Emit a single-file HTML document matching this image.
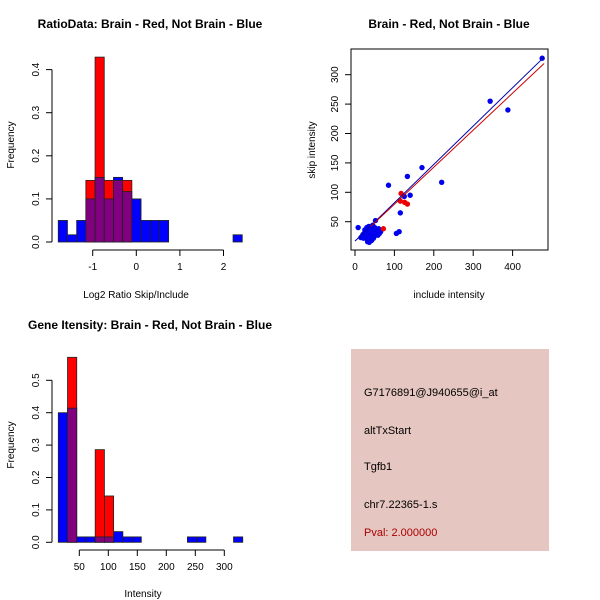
<!DOCTYPE html>
<html><head><meta charset="utf-8"><style>
body{margin:0;background:#fff}
svg{display:block;font-family:"Liberation Sans",sans-serif}
.t{font-weight:bold;font-size:12px}
.l{font-size:10px}
</style></head><body>
<svg id="c" width="600" height="600" xmlns="http://www.w3.org/2000/svg"></svg>
<script>
// ---- data ----
const ratioBreakStart = -1.79, ratioBreakStep = 0.211;
const ratioBlue = [0.05,0.0167,0.05,0.1,0.15,0.1,0.15,0.117,0.1,0.05,0.05,0.05,0,0,0,0,0,0,0,0.0167];
const ratioRed  = [0,0,0,0.143,0.429,0.143,0.143,0.143,0,0,0,0,0,0,0,0,0,0,0,0];
const ratioYTicks = [0,0.1,0.2,0.3,0.4];
const ratioYLabels = ["0.0","0.1","0.2","0.3","0.4"];
const ratioXTicks = [-1,0,1,2];

const intBreakStart = 13.8, intBreakStep = 15.9;
const intBlue = [0.4,0.414,0.0167,0.0167,0.0167,0.0167,0.033,0.0167,0.0167,0,0,0,0,0,0.0167,0.0167,0,0,0,0.0167];
const intRed  = [0,0.571,0,0,0.286,0.143,0,0,0,0,0,0,0,0,0,0,0,0,0,0];
const intYTicks = [0,0.1,0.2,0.3,0.4,0.5];
const intYLabels = ["0.0","0.1","0.2","0.3","0.4","0.5"];
const intXTicks = [50,100,150,200,250,300];

const blueX = [475,343,388,220,170,133,85,125,140,115,105,112,52,8,20,25,30,35,40,45,50,55,60,65,22,28,33,38,43,48,53,58,30,35,40,45,50,25,15,62,36,42,47,32,27];
const blueY = [328,255,240,117,142,127,112,93,95,65,30,33,52,40,28,32,35,30,38,33,36,30,38,33,22,26,20,25,28,24,30,27,40,42,35,44,40,36,23,30,15,18,22,16,30];
const redX = [117,115,133,72,126];
const redY = [98,85,80,38,83];
const fitBlue = [{x:0,y:17},{x:480,y:330}];
const fitRed = [{x:40,y:42},{x:480,y:319}];
const scXTicks = [0,100,200,300,400];
const scYTicks = [50,100,150,200,250,300];

const panelLines = ["G7176891@J940655@i_at","altTxStart","Tgfb1","chr7.22365-1.s"];
const pvalText = "Pval: 2.000000";

// ---- helpers ----
const svg = document.getElementById('c');
const NS = 'http://www.w3.org/2000/svg';
function mk(tag, attrs, parent){const e=document.createElementNS(NS,tag);for(const k in attrs)e.setAttribute(k,attrs[k]);(parent||svg).appendChild(e);return e;}
function txt(s,x,y,attrs){const e=mk('text',Object.assign({x:x,y:y},attrs||{}));e.textContent=s;return e;}

function hist(opt){
  const g=mk('g',{});
  
  
  const sx=v=>opt.x0px+(v-opt.x0)*opt.xs, sy=v=>opt.y0px-v*opt.ys;
  for(let i=0;i<opt.blue.length;i++){
    const a=opt.start+i*opt.step,b=a+opt.step;
    const bl=opt.blue[i], rd=opt.red[i], m=Math.min(bl,rd), mx=Math.max(bl,rd);
    if(mx<=0)continue;
    const x1=sx(a),x2=sx(b);
    const topColor = rd>bl? '#ff0000' : '#0000ff';
    const r1=mk('rect',{x:x1,y:sy(mx),width:x2-x1,height:sy(0)-sy(mx),fill:topColor,stroke:'#222','stroke-width':0.8},g);
    
    
    if(m>0){
      const r2=mk('rect',{x:x1,y:sy(m),width:x2-x1,height:sy(0)-sy(m),fill:'#800080',stroke:'#222','stroke-width':0.8},g);
      
      
    }
  }
  const ya=mk('g',{});
  
  
  mk('line',{x1:opt.yAxisX,x2:opt.yAxisX,y1:sy(0),y2:sy(opt.yTicks[opt.yTicks.length-1]),stroke:'#000'},ya);
  opt.yTicks.forEach((v,i)=>{
    mk('line',{x1:opt.yAxisX-6,x2:opt.yAxisX,y1:sy(v),y2:sy(v),stroke:'#000'},ya);
    const t=txt(opt.yLabels[i],0,0,{class:'l','text-anchor':'middle',transform:`translate(${opt.yAxisX-13},${sy(v)}) rotate(-90)`});
    ya.appendChild(t);
  });
  const xa=mk('g',{});
  
  
  mk('line',{x1:sx(opt.xTicks[0]),x2:sx(opt.xTicks[opt.xTicks.length-1]),y1:opt.xAxisY,y2:opt.xAxisY,stroke:'#000'},xa);
  opt.xTicks.forEach(v=>{
    mk('line',{x1:sx(v),x2:sx(v),y1:opt.xAxisY,y2:opt.xAxisY+6,stroke:'#000'},xa);
    xa.appendChild(txt(String(v),sx(v),opt.xAxisY+20,{class:'l','text-anchor':'middle'}));
  });
}

const titles=[["RatioData: Brain - Red, Not Brain - Blue",150,28,'ratio-title'],["Brain - Red, Not Brain - Blue",449,28,'scatter-title'],["Gene Itensity: Brain - Red, Not Brain - Blue",150,329,'intensity-title']];
titles.forEach(t=>{const e=txt(t[0],t[1],t[2],{class:'t','text-anchor':'middle'});});

hist({name:'ratio-histogram',blue:ratioBlue,red:ratioRed,start:ratioBreakStart,step:ratioBreakStep,x0:0,x0px:136.3,xs:43.6,y0px:242,ys:431,yTicks:ratioYTicks,yLabels:ratioYLabels,xTicks:ratioXTicks,yAxisX:52,xAxisY:250});
hist({name:'intensity-histogram',blue:intBlue,red:intRed,start:intBreakStart,step:intBreakStep,x0:50,x0px:79.3,xs:0.58,y0px:542.3,ys:324,yTicks:intYTicks,yLabels:intYLabels,xTicks:intXTicks,yAxisX:52,xAxisY:550});

const labs=[["Log2 Ratio Skip/Include",136,298,0,'ratio-x-axis-title'],["Frequency",10,145,1,'ratio-y-axis-title'],["Intensity",143,597,0,'intensity-x-axis-title'],["Frequency",10,445,1,'intensity-y-axis-title'],["include intensity",449,298,0,'scatter-x-axis-title'],["skip intensity",311,150,1,'scatter-y-axis-title']];
labs.forEach(l=>{const e=l[3]?txt(l[0],0,0,{class:'l','text-anchor':'middle',transform:`translate(${l[1]+4},${l[2]}) rotate(-90)`}):txt(l[0],l[1],l[2],{class:'l','text-anchor':'middle'});});

const px=v=>355+v*0.394, py=v=>221.7-(v-50)*0.588;
const sg=mk('g',{});


mk('rect',{x:351,y:49,width:197,height:201,fill:'none',stroke:'#000'},sg);
scXTicks.forEach(v=>{mk('line',{x1:px(v),x2:px(v),y1:250,y2:256,stroke:'#000'},sg);sg.appendChild(txt(String(v),px(v),270,{class:'l','text-anchor':'middle'}));});
scYTicks.forEach(v=>{mk('line',{x1:345,x2:351,y1:py(v),y2:py(v),stroke:'#000'},sg);sg.appendChild(txt(String(v),0,0,{class:'l','text-anchor':'middle',transform:`translate(${338},${py(v)}) rotate(-90)`}));});
blueX.forEach((x,i)=>{const c=mk('circle',{cx:px(x),cy:py(blueY[i]),r:2.7,fill:'#0000ee'},sg);});
redX.forEach((x,i)=>{const c=mk('circle',{cx:px(x),cy:py(redY[i]),r:2.7,fill:'#ee0000'},sg);});
const lb=mk('line',{x1:px(fitBlue[0].x),y1:py(fitBlue[0].y),x2:px(fitBlue[1].x),y2:py(fitBlue[1].y),stroke:'#0000aa','stroke-width':1},sg);

const lr=mk('line',{x1:px(fitRed[0].x),y1:py(fitRed[0].y),x2:px(fitRed[1].x),y2:py(fitRed[1].y),stroke:'#cc0000','stroke-width':1},sg);


const pg=mk('g',{});


mk('rect',{x:351,y:349,width:198,height:202,fill:'#e6c6c0'},pg);
const ys=[396,434,470,508];
panelLines.forEach((s,i)=>{const e=txt(s,364,ys[i],{style:'font-size:11px'});pg.appendChild(e);});
const pv=txt(pvalText,364,536,{style:'font-size:11px',fill:'#aa0000'});pg.appendChild(pv);

</script>
</body></html>
